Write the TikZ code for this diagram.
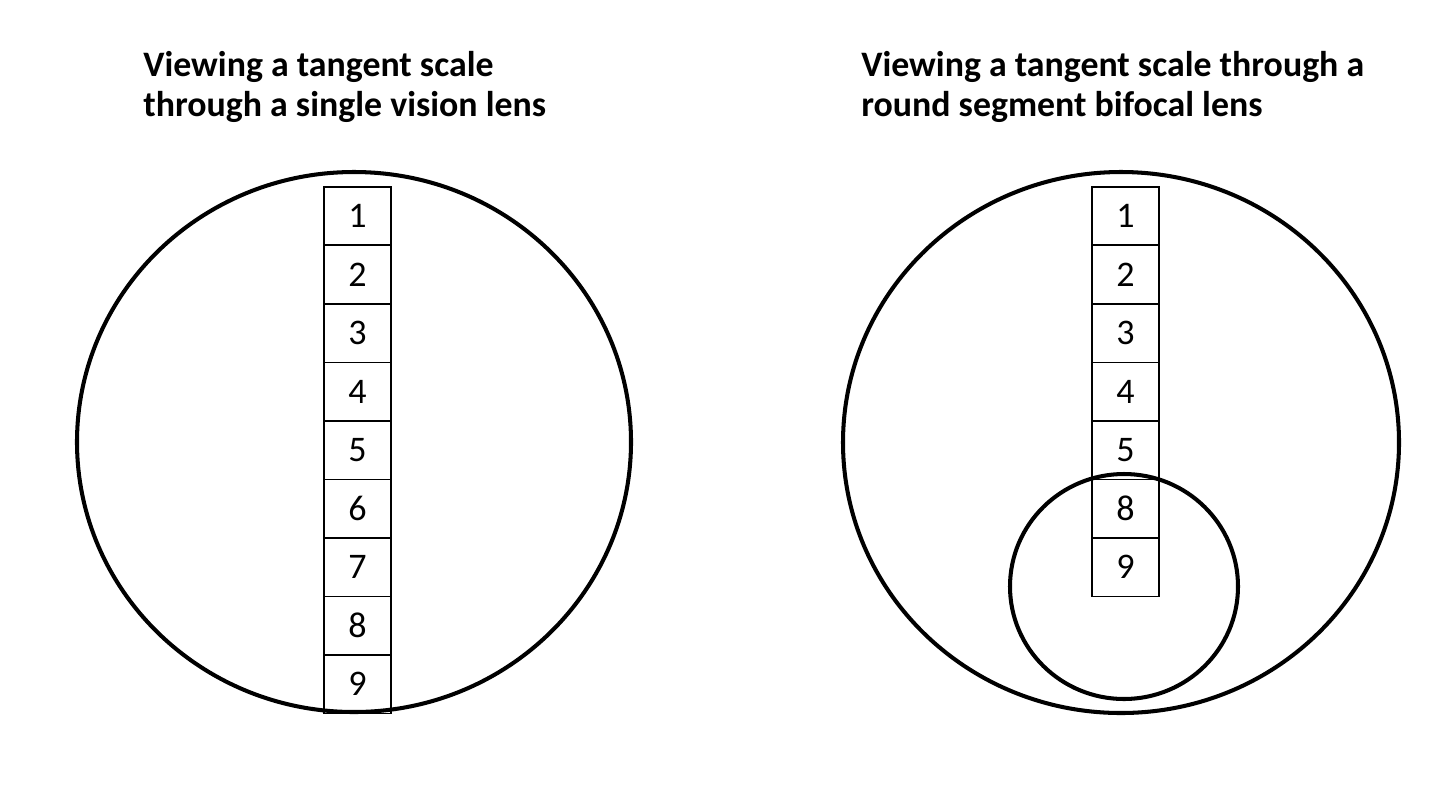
\documentclass[tikz,border=0pt]{standalone}
\usepackage{fontspec}
\setmainfont{Carlito}
\usetikzlibrary{positioning}
\tikzset{
  lens/.style={draw=black,line width=2.3pt},
  scalecell/.style={draw=black,line width=1.1pt,minimum width=1.34cm,
    minimum height=1.17cm,inner sep=0pt,anchor=north,font=\fontsize{20.5}{24}\selectfont},
  heading/.style={anchor=north west,align=left,inner sep=0pt,
    font=\bfseries\fontsize{20.4}{22.8}\selectfont}
}

\begin{document}
\begin{tikzpicture}[x=0.02cm,y=-0.02cm]
  \useasboundingbox (0,0) rectangle (1450,806);
  % titles
  \node[heading] (titleL) at (143,51) {Viewing a tangent scale\\through a single vision lens};
  \node[heading] (titleR) at (861,51) {Viewing a tangent scale through a\\round segment bifocal lens};
  % tangent scale, single vision
  \foreach \n [count=\i from 0] in {1,...,9}
    \node[scalecell] (sv\n) at (357.5,186+58.5*\i) {\n};
  % tangent scale, bifocal
  \foreach \n [count=\i from 0] in {1,2,3,4,5,8,9}
    \node[scalecell] (bf\n) at (1125.5,186+58.5*\i) {\n};
  % lenses
  \draw[lens] (354,442) ellipse [x radius=277,y radius=270];
  \draw[lens] (1121,442.5) ellipse [x radius=278,y radius=270.5];
  \draw[lens] (1124,586.5) ellipse [x radius=114,y radius=112.5];
\end{tikzpicture}
\end{document}
